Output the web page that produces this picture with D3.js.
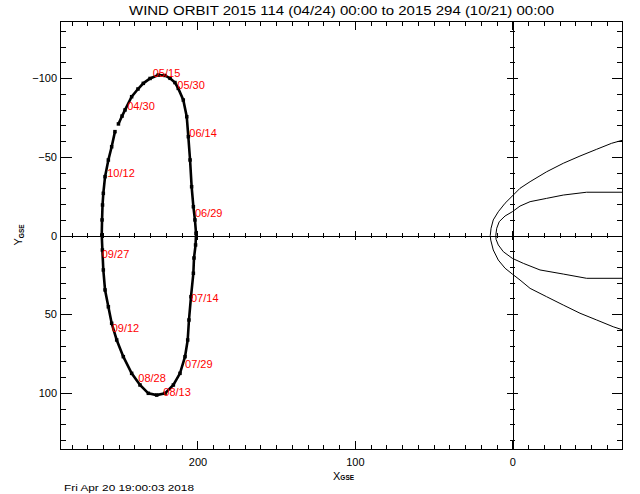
<!DOCTYPE html>
<html>
<head>
<meta charset="utf-8">
<script src="https://cdn.jsdelivr.net/npm/d3@7"></script>
<style>
  html, body { margin: 0; padding: 0; background: #fff; }
  svg { display: block; }
  text { font-family: "Liberation Sans", Arial, sans-serif; }
</style>
</head>
<body>
<script>
// ---- data (GSE coordinates, Earth radii) ----
const titleText = "WIND ORBIT 2015 114 (04/24) 00:00 to 2015 294 (10/21) 00:00";
const dateStamp = "Fri Apr 20 19:00:03 2018";

// orbit track, time ordered (x_GSE, y_GSE)
const orbitX = [250.2, 247.9, 246.0, 241.8, 237.8, 234.4, 230.1, 224.9, 220.6, 217.4,
  214.3, 212.2, 209.0, 206.8, 205.8, 204.7, 203.7, 202.6, 201.6, 200.9,
  201.2, 202.2, 202.6, 204.1, 205.4, 206.2, 207.9, 211.1, 215.3, 220.6,
  225.9, 231.2, 236.5, 241.8, 247.1, 251.3, 254.5, 256.6, 258.7, 259.8,
  260.4, 260.8, 260.6, 260.3, 259.8, 258.7, 256.6, 254.5, 252.4];
const orbitY = [-70.9, -75.9, -79.8, -88.2, -93.1, -96.7, -99.8, -102.0, -101.7, -99.9,
  -97.2, -93.5, -86.1, -75.5, -62.8, -48.0, -31.0, -18.3, -9.9, -1.4,
  6.0, 14.3, 24.0, 38.9, 53.7, 66.4, 77.0, 87.6, 95.0, 100.3,
  101.4, 100.3, 95.0, 87.6, 77.0, 66.4, 55.8, 45.3, 34.6, 21.9,
  9.2, -0.3, -9.9, -19.4, -26.8, -37.4, -48.0, -56.4, -66.0];

// date labels
const labelText = ["04/30", "05/15", "05/30", "06/14", "06/29", "07/14", "07/29",
  "08/13", "08/28", "09/12", "09/27", "10/12"];
const labelX = [244.6, 228.4, 212.8, 205.2, 201.6, 204.1, 207.9, 221.7, 237.6, 254.5, 260.8, 257.3];
const labelY = [-79.8, -100.7, -93.1, -62.4, -11.6, 42.1, 84.4, 101.8, 93.3, 61.5, 14.5, -37.4];

// bow shock (outer) and magnetopause (inner) model curves
const bowX = [-70.5, -63.1, -53.6, -43.0, -32.4, -21.8, -11.3, -4.9, 0, 4.6, 8.9, 12.1, 13.5, 14.0,
  13.7, 12.1, 8.9, 4.6, 0, -4.9, -11.3, -21.8, -32.4, -43.0, -53.6, -64.1, -70.5];
const bowY = [-60.7, -58.6, -54.8, -50.5, -45.9, -40.5, -34.2, -30.0, -25.1, -20.5, -15.1, -9.9, -4.6, 0,
  2.9, 9.2, 15.6, 20.8, 24.5, 28.3, 33.6, 38.9, 44.2, 49.4, 53.7, 58.0, 60.1];
const mpX = [-70.5, -47.2, -32.4, -21.8, -11.3, -4.9, 0, 4.6, 8.3, 9.9, 10.5,
  10.3, 8.9, 5.7, 0, -7.0, -17.6, -32.4, -47.2, -70.5];
const mpY = [-27.5, -27.5, -25.7, -23.6, -21.5, -18.7, -15.1, -12.4, -8.8, -4.6, 0,
  2.5, 6.0, 10.3, 14.5, 17.7, 21.9, 24.5, 27.2, 27.2];

// axes
const xDomain = [287, -70];
const yDomain = [-136, 136];
const xMajor = [200, 100, 0];
const yMajor = [-100, -50, 0, 50, 100];
const xMinor = d3.range(-60, 290, 10);
const yMinor = d3.range(-130, 140, 10);

// ---- drawing ----
const W = 640, H = 494;
const L = 60.5, T = 21.5, R = 622.5, B = 449.5;
const svg = d3.select("body").append("svg").attr("width", W).attr("height", H);

const x = d3.scaleLinear().domain(xDomain).range([L, R]);
const y = d3.scaleLinear().domain(yDomain).range([T, B]);

svg.append("defs").append("clipPath").attr("id", "clip")
  .append("rect").attr("x", L).attr("y", T).attr("width", R - L).attr("height", B - T);

// title
svg.append("text").attr("x", (L + R) / 2).attr("y", 15).attr("text-anchor", "middle")
  .attr("font-size", 12).attr("textLength", 425).attr("lengthAdjust", "spacingAndGlyphs")
  .text(titleText);

// frame
svg.append("rect").attr("x", L).attr("y", T).attr("width", R - L).attr("height", B - T)
  .attr("fill", "none").attr("stroke", "#000").attr("stroke-width", 1).attr("shape-rendering", "crispEdges");

const XT = 8.5, YT = 11;
function styleAxis(g) {
  g.select(".domain").remove();
  g.selectAll("line").attr("stroke", "#000").attr("shape-rendering", "crispEdges");
  g.selectAll("text").attr("font-size", 11).attr("fill", "#000").attr("font-family", "Liberation Sans, Arial, sans-serif");
}
// left
svg.append("g").attr("transform", `translate(${L},0)`)
  .call(d3.axisLeft(y).tickValues(yMajor).tickSizeInner(-YT).tickSizeOuter(0).tickPadding(3.5).tickFormat(d3.format("d")))
  .call(styleAxis);
svg.append("g").attr("transform", `translate(${L},0)`)
  .call(d3.axisLeft(y).tickValues(yMinor).tickSizeInner(-YT / 2).tickSizeOuter(0).tickFormat(""))
  .call(styleAxis);
// right
svg.append("g").attr("transform", `translate(${R},0)`)
  .call(d3.axisRight(y).tickValues(yMajor).tickSizeInner(-YT).tickSizeOuter(0).tickFormat(""))
  .call(styleAxis);
svg.append("g").attr("transform", `translate(${R},0)`)
  .call(d3.axisRight(y).tickValues(yMinor).tickSizeInner(-YT / 2).tickSizeOuter(0).tickFormat(""))
  .call(styleAxis);
// bottom
svg.append("g").attr("transform", `translate(0,${B})`)
  .call(d3.axisBottom(x).tickValues(xMajor).tickSizeInner(-XT).tickSizeOuter(0).tickPadding(8.7).tickFormat(d3.format("d")))
  .call(styleAxis);
svg.append("g").attr("transform", `translate(0,${B})`)
  .call(d3.axisBottom(x).tickValues(xMinor).tickSizeInner(-XT / 2).tickSizeOuter(0).tickFormat(""))
  .call(styleAxis);
// top
svg.append("g").attr("transform", `translate(0,${T})`)
  .call(d3.axisTop(x).tickValues(xMajor).tickSizeInner(-XT).tickSizeOuter(0).tickFormat(""))
  .call(styleAxis);
svg.append("g").attr("transform", `translate(0,${T})`)
  .call(d3.axisTop(x).tickValues(xMinor).tickSizeInner(-XT / 2).tickSizeOuter(0).tickFormat(""))
  .call(styleAxis);

// inner axes through the origin (ticks centred on the line)
function innerAxis(axis, len, horiz) {
  return g => {
    g.call(axis.tickSizeOuter(0).tickFormat(""));
    g.select(".domain").attr("stroke", "#000").attr("shape-rendering", "crispEdges");
    g.selectAll(".tick line").attr("stroke", "#000").attr("shape-rendering", "crispEdges");
    if (horiz) g.selectAll(".tick line").attr("y1", -len / 2).attr("y2", len / 2);
    else g.selectAll(".tick line").attr("x1", -len / 2).attr("x2", len / 2);
  };
}
const y0 = Math.round(y(0) - 0.5) + 0.5;
const x0 = Math.round(x(0) - 0.5) + 0.5;
svg.append("g").attr("transform", `translate(0,${y0})`).call(innerAxis(d3.axisBottom(x).tickValues(xMinor), XT / 2, true));
svg.append("g").attr("transform", `translate(0,${y0})`).call(innerAxis(d3.axisBottom(x).tickValues(xMajor), XT, true));
svg.append("g").attr("transform", `translate(${x0},0)`).call(innerAxis(d3.axisLeft(y).tickValues(yMinor), YT / 2, false));
svg.append("g").attr("transform", `translate(${x0},0)`).call(innerAxis(d3.axisLeft(y).tickValues(yMajor), YT, false));

// model curves
const plot = svg.append("g").attr("clip-path", "url(#clip)");
const line = d3.line().x(d => x(d[0])).y(d => y(d[1]));
plot.append("path").datum(d3.zip(bowX, bowY)).attr("d", line)
  .attr("fill", "none").attr("stroke", "#000").attr("stroke-width", 1);
plot.append("path").datum(d3.zip(mpX, mpY)).attr("d", line)
  .attr("fill", "none").attr("stroke", "#000").attr("stroke-width", 1);

// orbit
const orbit = d3.zip(orbitX, orbitY);
plot.append("path").datum(orbit).attr("d", line)
  .attr("fill", "none").attr("stroke", "#000").attr("stroke-width", 2.6);
plot.selectAll("rect.pt").data(orbit).join("rect").attr("class", "pt")
  .attr("x", d => x(d[0]) - 1.75).attr("y", d => y(d[1]) - 1.75)
  .attr("width", 3.5).attr("height", 3.5).attr("fill", "#000");

// date labels
svg.append("g").selectAll("text").data(labelText).join("text")
  .attr("x", (d, i) => x(labelX[i])).attr("y", (d, i) => y(labelY[i]))
  .attr("font-size", 11).attr("fill", "#ff0000").text(d => d);

// axis titles
const xl = svg.append("text").attr("x", 333).attr("y", 479.7).attr("font-size", 11);
xl.append("tspan").text("X");
xl.append("tspan").attr("font-size", 6.5).attr("font-weight", "bold").attr("dy", 0.5).text("GSE");
const yl = svg.append("text").attr("transform", "translate(21.7,245.5) rotate(-90)").attr("font-size", 11);
yl.append("tspan").text("Y");
yl.append("tspan").attr("font-size", 6.5).attr("font-weight", "bold").attr("dy", 2.3).text("GSE");

// date stamp
svg.append("text").attr("x", 64).attr("y", 491).attr("font-size", 9.5)
  .attr("textLength", 130).attr("lengthAdjust", "spacingAndGlyphs").text(dateStamp);
</script>
</body>
</html>
